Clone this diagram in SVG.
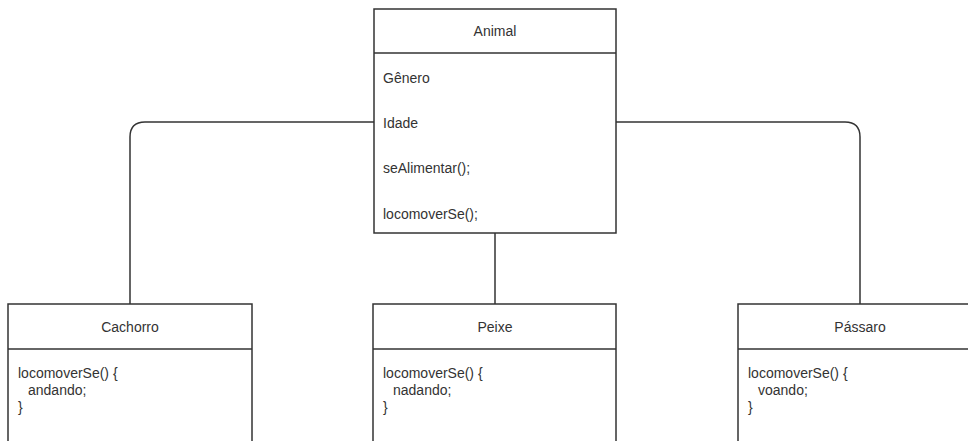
<svg xmlns="http://www.w3.org/2000/svg" width="968" height="441" viewBox="0 0 968 441">
<style>
.box{fill:#fff;stroke:#333;stroke-width:1.5}
.sep{stroke:#333;stroke-width:1.5}
.edge{fill:none;stroke:#333;stroke-width:1.5}
text{font-family:"Liberation Sans",Arial,sans-serif;font-size:14px;fill:#333}
.t{text-anchor:middle}
</style>
<rect width="968" height="441" fill="#fff"/>
<g id="connectors">
<path class="edge" d="M374 122 H145 Q130 122 130 137 V304"/>
<path class="edge" d="M616 122 H845 Q860 122 860 137 V304"/>
<path class="edge" d="M495 233 V304"/>
</g>
<g id="animal">
<rect class="box" x="374" y="9" width="242" height="224"/>
<line class="sep" x1="374" y1="53" x2="616" y2="53"/>
<text class="t" x="495" y="36">Animal</text>
<text x="383" y="83">Gênero</text>
<text x="383" y="128">Idade</text>
<text x="383" y="173">seAlimentar();</text>
<text x="383" y="219">locomoverSe();</text>
</g>
<g id="cachorro">
<rect class="box" x="8" y="304" width="244" height="150"/>
<line class="sep" x1="8" y1="349" x2="252" y2="349"/>
<text class="t" x="130" y="332">Cachorro</text>
<text x="18" y="378">locomoverSe() {</text>
<text x="28" y="395">andando;</text>
<text x="18" y="412">}</text>
</g>
<g id="peixe">
<rect class="box" x="373" y="304" width="243" height="150"/>
<line class="sep" x1="373" y1="349" x2="616" y2="349"/>
<text class="t" x="495" y="332">Peixe</text>
<text x="383" y="378">locomoverSe() {</text>
<text x="393" y="395">nadando;</text>
<text x="383" y="412">}</text>
</g>
<g id="passaro">
<rect class="box" x="738" y="304" width="244" height="150"/>
<line class="sep" x1="738" y1="349" x2="982" y2="349"/>
<text class="t" x="860" y="332">Pássaro</text>
<text x="748" y="378">locomoverSe() {</text>
<text x="758" y="395">voando;</text>
<text x="748" y="412">}</text>
</g>
</svg>
